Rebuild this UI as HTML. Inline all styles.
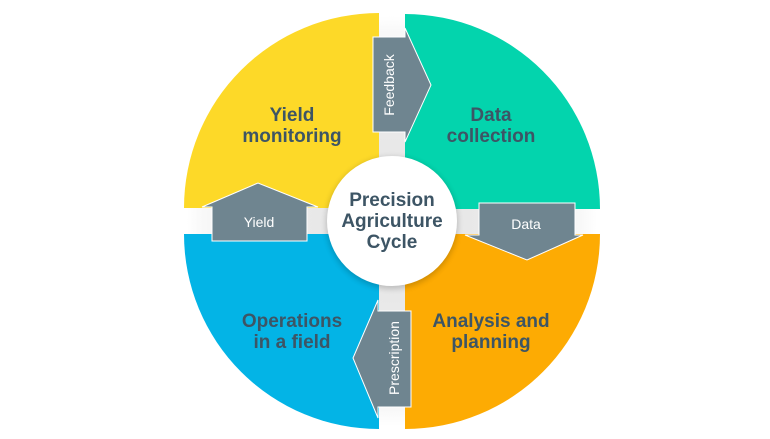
<!DOCTYPE html>
<html><head><meta charset="utf-8"><style>
html,body{margin:0;padding:0;background:#fff;}
svg{display:block;}
text{font-family:"Liberation Sans",sans-serif;}
</style></head><body>
<svg width="770" height="439" viewBox="0 0 770 439" xmlns="http://www.w3.org/2000/svg">
<defs>
<radialGradient id="bg" cx="392" cy="221" r="205" gradientUnits="userSpaceOnUse">
<stop offset="0" stop-color="#e2e2e2"/><stop offset="0.6" stop-color="#ececec"/><stop offset="0.92" stop-color="#f8f8f8"/><stop offset="1" stop-color="#ffffff"/>
</radialGradient>
<filter id="sh" x="-30%" y="-30%" width="160%" height="160%"><feGaussianBlur stdDeviation="3"/></filter>
</defs>
<circle cx="392" cy="221" r="205" fill="url(#bg)"/>
<path d="M379,208 L184,208 A195,195 0 0 1 379,13 Z" fill="#fdd928"/>
<path d="M405,209 L405,14 A195,195 0 0 1 600,209 Z" fill="#03d4ad"/>
<path d="M379,234 L379,429 A195,195 0 0 1 184,234 Z" fill="#03b4e6"/>
<path d="M405,234 L600,234 A195,195 0 0 1 405,429 Z" fill="#fdab03"/>
<g fill="#6f8590" stroke="#fff" stroke-width="1">
<path d="M373,37 L405,37 L405,28 L431,85 L405,142 L405,132 L373,132 Z"/>
<path d="M479,203 L575,203 L575,235 L583,235 L527,260 L465,235 L479,235 Z"/>
<path d="M212,241 L307,241 L307,207 L318,207 L258,183 L202,207 L212,207 Z"/>
<path d="M411,311 L411,407 L378,407 L378,418 L353,358 L378,300 L378,311 Z"/>
</g>
<circle cx="392" cy="223" r="66" fill="#000" opacity="0.18" filter="url(#sh)"/>
<circle cx="392" cy="221" r="65" fill="#fff"/>
<g fill="#3d5565" font-weight="bold" font-size="19" text-anchor="middle">
<text x="292" y="121">Yield</text><text x="292" y="142">monitoring</text>
<text x="491" y="121">Data</text><text x="491" y="142">collection</text>
<text x="292" y="327">Operations</text><text x="292" y="348">in a field</text>
<text x="491" y="327">Analysis and</text><text x="491" y="348">planning</text>
<text x="392" y="206">Precision</text><text x="392" y="227">Agriculture</text><text x="392" y="248">Cycle</text>
</g>
<g fill="#fff" font-size="14" text-anchor="middle">
<text x="526" y="229">Data</text>
<text x="259" y="227">Yield</text>
<text transform="translate(394,85) rotate(-90)">Feedback</text>
<text transform="translate(399,358) rotate(-90)">Prescription</text>
</g>
</svg>
</body></html>
